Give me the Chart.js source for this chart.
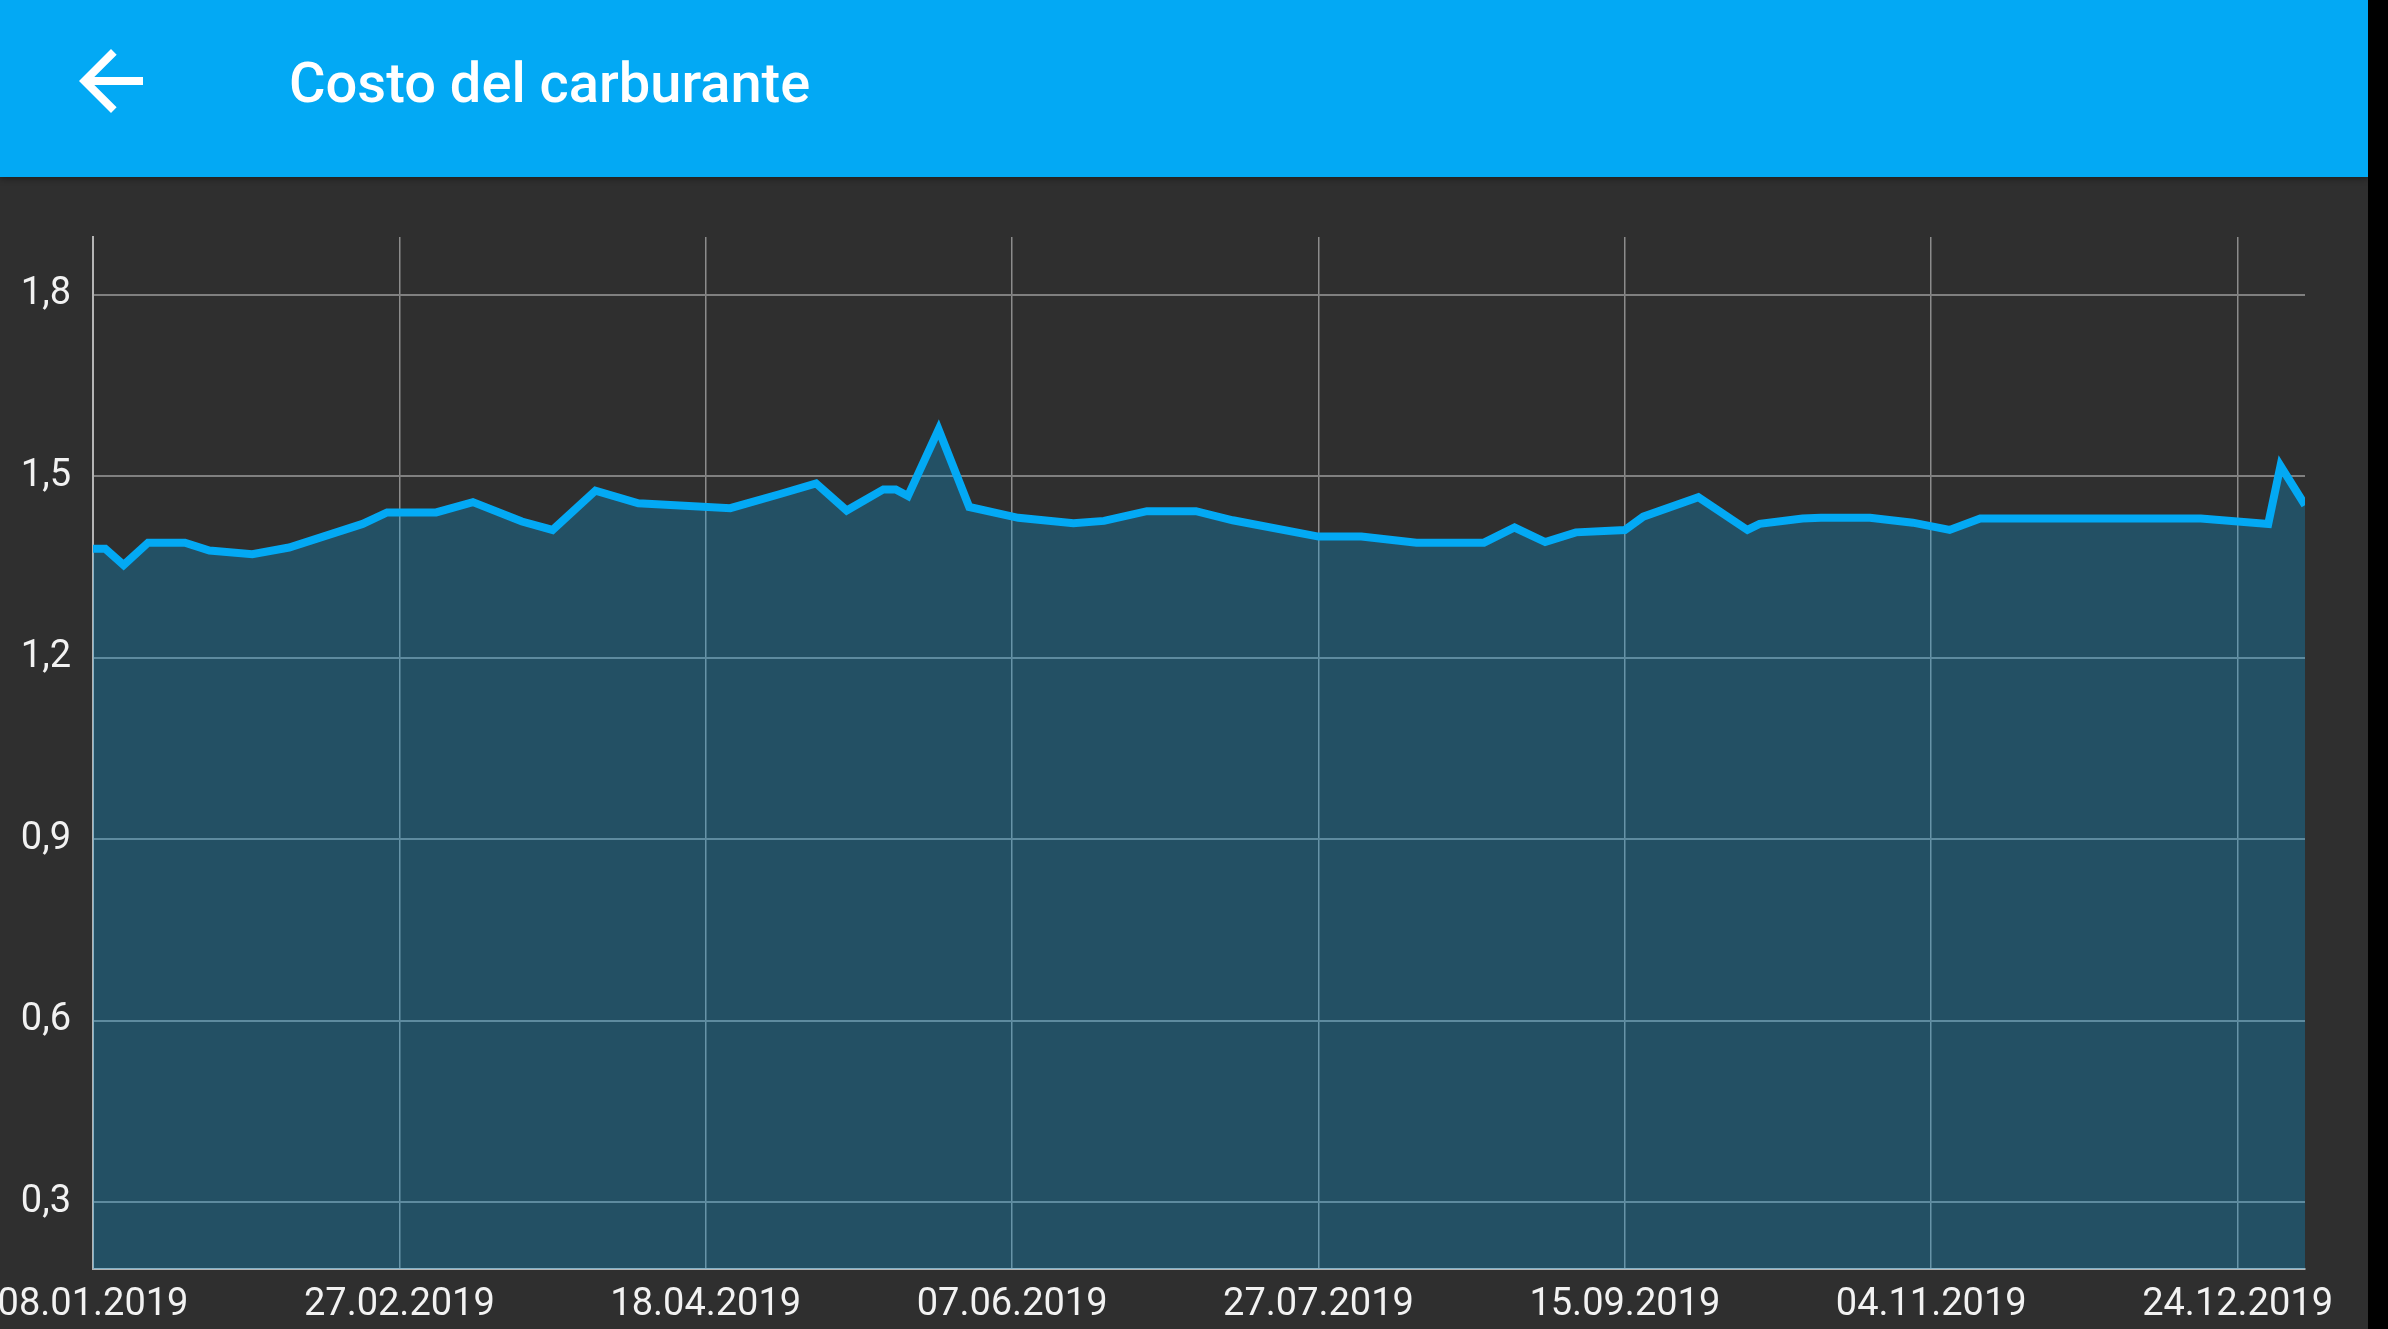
<!DOCTYPE html>
<html>
<head>
<meta charset="utf-8">
<script src="https://cdn.jsdelivr.net/npm/chart.js@4.4.1/dist/chart.umd.min.js"></script>
<style>
  html, body { margin: 0; padding: 0; width: 2388px; height: 1329px; overflow: hidden; background: #000; font-family: Roboto, "Noto Sans", sans-serif; }
  #page { position: absolute; left: 0; top: 0; width: 2368px; height: 1329px; background: #2f2f2f; overflow: hidden; }
  #bar { position: absolute; left: 0; top: 0; width: 2368px; height: 177px; background: #03a9f4; box-shadow: 0 2px 6px rgba(0,0,0,0.35); z-index: 2; }
  #bar svg { position: absolute; left: 63px; top: 33px; width: 96px; height: 96px; }
  #bar h1 { position: absolute; left: 289px; top: 55px; margin: 0; font-size: 56px; line-height: 56px; font-weight: 500; color: #fff; white-space: nowrap; }
  #wrap { position: absolute; left: -20px; top: 177px; width: 2388px; height: 1152px; }
</style>
</head>
<body>
<div id="page">
  <div id="bar">
    <svg viewBox="0 0 24 24"><path fill="#fff" d="M20 11H7.83l5.59-5.59L12 4l-8 8 8 8 1.41-1.41L7.83 13H20v-2z"/></svg>
    <h1>Costo del carburante</h1>
  </div>
  <div id="wrap"><canvas id="myChart"></canvas></div>
</div>
<script>
// fuel price readings (date, €/l)
const dates = [
  "2019-01-08", "2019-01-10", "2019-01-13", "2019-01-17", "2019-01-23",
  "2019-01-27", "2019-02-03", "2019-02-09", "2019-02-21", "2019-02-25",
  "2019-03-05", "2019-03-11", "2019-03-19", "2019-03-24", "2019-03-31",
  "2019-04-07", "2019-04-22", "2019-04-30", "2019-05-06", "2019-05-11",
  "2019-05-17", "2019-05-19", "2019-05-21", "2019-05-26", "2019-05-31",
  "2019-06-08", "2019-06-17", "2019-06-22", "2019-06-29", "2019-07-07",
  "2019-07-13", "2019-07-27", "2019-08-03", "2019-08-12", "2019-08-23",
  "2019-08-28", "2019-09-02", "2019-09-07", "2019-09-15", "2019-09-18",
  "2019-09-27", "2019-10-05", "2019-10-07", "2019-10-14", "2019-10-17",
  "2019-10-25", "2019-11-01", "2019-11-07", "2019-11-12", "2019-12-18",
  "2019-12-29", "2019-12-31", "2020-01-04"
];
const prices = [
  1.38, 1.38, 1.353, 1.39, 1.39,
  1.377, 1.371, 1.382, 1.421, 1.44,
  1.44, 1.457, 1.425, 1.411, 1.476,
  1.455, 1.447, 1.47, 1.488, 1.443,
  1.478, 1.478, 1.467, 1.577, 1.449,
  1.431, 1.422, 1.426, 1.442, 1.442,
  1.427, 1.40, 1.40, 1.39, 1.39,
  1.415, 1.391, 1.407, 1.411, 1.433,
  1.465, 1.411, 1.421, 1.430, 1.431,
  1.431, 1.423, 1.411, 1.430, 1.430,
  1.421, 1.517, 1.452
];
const xTickLabels = [
  "08.01.2019", "27.02.2019", "18.04.2019", "07.06.2019",
  "27.07.2019", "15.09.2019", "04.11.2019", "24.12.2019"
];
const yTicks = [0.3, 0.6, 0.9, 1.2, 1.5, 1.8];

const start = Date.UTC(2019, 0, 8);
const isoDay = s => Math.round((Date.UTC(+s.slice(0, 4), +s.slice(5, 7) - 1, +s.slice(8, 10)) - start) / 86400000);
const itDay = s => isoDay(s.slice(6, 10) + "-" + s.slice(3, 5) + "-" + s.slice(0, 2));
const xTickDays = xTickLabels.map(itDay);
const points = dates.map((d, i) => ({ x: isoDay(d), y: prices[i] }));

const textColor = "#f2f2f2";
const tickFont = { family: "Roboto", size: 38 };

new Chart(document.getElementById("myChart"), {
  type: "line",
  data: {
    datasets: [{
      data: points,
      borderColor: "#03a9f4",
      backgroundColor: "rgba(3,169,244,0.27)",
      borderWidth: 8,
      fill: "start",
      pointRadius: 0,
      tension: 0,
    }]
  },
  options: {
    responsive: true,
    maintainAspectRatio: false,
    animation: false,
    layout: { padding: { top: 60, right: 63, left: 0, bottom: 0 } },
    plugins: {
      legend: { display: false },
      tooltip: { enabled: false }
    },
    scales: {
      x: {
        type: "linear",
        min: 0,
        max: points[points.length - 1].x,
        afterBuildTicks: s => { s.ticks = xTickDays.map(v => ({ value: v })); },
        afterFit: s => { s.height = 60; },
        grid: { color: "#8c8c8c", lineWidth: 1.5, drawTicks: false },
        border: { display: true, color: "#b4b4b4", width: 2 },
        ticks: {
          color: textColor,
          font: tickFont,
          padding: 14,
          maxRotation: 0,
          callback: v => xTickLabels[xTickDays.indexOf(v)] || ""
        }
      },
      y: {
        min: 0.19,
        max: 1.895,
        afterBuildTicks: s => { s.ticks = yTicks.map(v => ({ value: v })); },
        afterFit: s => { s.width = 113; },
        grid: { color: "#808080", lineWidth: 2, drawTicks: false },
        border: { display: true, color: "#b4b4b4", width: 2 },
        ticks: {
          color: textColor,
          font: tickFont,
          padding: 22,
          callback: v => v.toFixed(1).replace(".", ",")
        }
      }
    }
  }
});
</script>
</body>
</html>
